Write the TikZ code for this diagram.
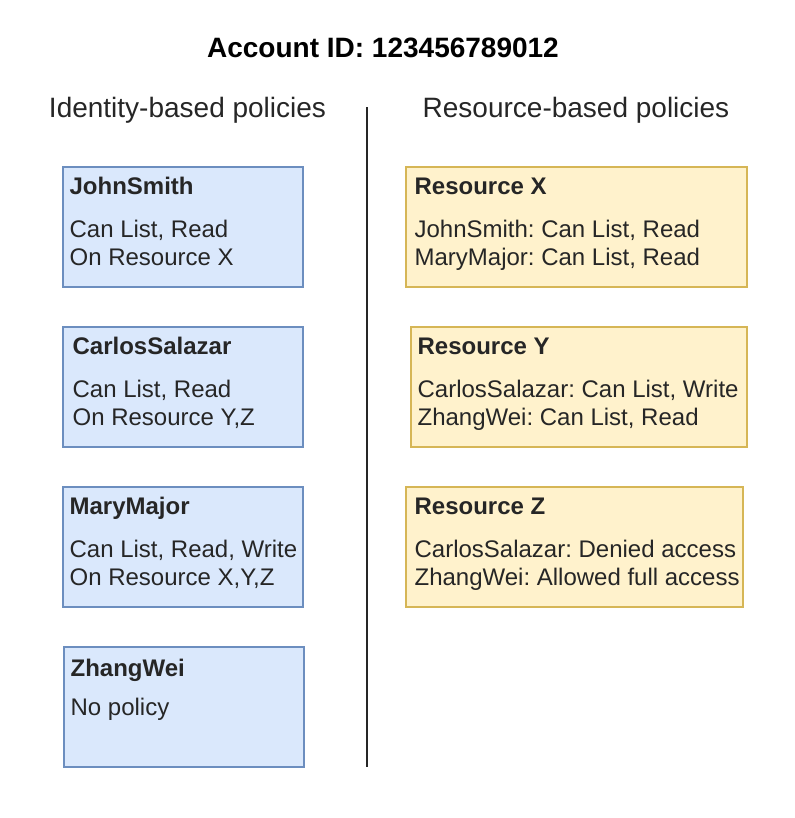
\documentclass[tikz,border=0pt]{standalone}
\usepackage{fontspec}
\setmainfont{Liberation Sans}
\frenchspacing
\usepackage{tikz}
\definecolor{id-fill}{HTML}{DAE8FC}
\definecolor{id-line}{HTML}{6C8EBF}
\definecolor{res-fill}{HTML}{FFF2CC}
\definecolor{res-line}{HTML}{D6B656}
\begin{document}
\begin{tikzpicture}[x=0.75pt, y=-0.75pt,
    idbox/.style={draw=id-line, fill=id-fill, line width=1pt, minimum width=180pt, minimum height=90pt},
    resbox/.style={draw=res-line, fill=res-fill, line width=1pt, minimum height=90pt},
    boxtext/.style={anchor=base west, inner sep=0pt, align=left, text=black!85, font=\fontsize{18pt}{21pt}\selectfont},
    head/.style={anchor=base, inner sep=0pt, text=black!85, font=\fontsize{21pt}{25pt}\selectfont}]
    \useasboundingbox (0,0) rectangle (794,818);

    \node[head, text=black, font=\fontsize{21pt}{25pt}\selectfont\bfseries] (title) at (383,57) {Account ID: 123456789012};
    \node[head] (idhead)  at (187.5,117) {Identity-based policies};
    \node[head] (reshead) at (576,117)   {Resource-based policies};

    % identity-based
    \node[idbox] (john)   at (183,227) {};
    \node[idbox] (carlos) at (183,387) {};
    \node[idbox] (mary)   at (183,547) {};
    \node[idbox] (zhang)  at (184,707) {};

    % (base of a text block = its last line)
    \node[boxtext] (johntxt)   at ([shift={(7,99)}]john.north west)   {\textbf{JohnSmith}\\[11pt]Can List, Read\\On Resource X};
    \node[boxtext] (carlostxt) at ([shift={(10,99)}]carlos.north west) {\textbf{CarlosSalazar}\\[11pt]Can List, Read\\On Resource Y,Z};
    \node[boxtext] (marytxt)   at ([shift={(7,99)}]mary.north west)   {\textbf{MaryMajor}\\[11pt]Can List, Read, Write\\On Resource X,Y,Z};
    \node[boxtext] (zhangtxt)  at ([shift={(7,69)}]zhang.north west)  {\textbf{ZhangWei}\\[8pt]No policy};

    % resource-based
    \node[resbox, minimum width=255.75pt] (resx) at (576.5,227) {};
    \node[resbox, minimum width=252pt]    (resy) at (579,387)   {};
    \node[resbox, minimum width=252.75pt] (resz) at (574.5,547) {};

    \node[boxtext] (resxtxt) at ([shift={(9,99)}]resx.north west) {\textbf{Resource X}\\[11pt]JohnSmith: Can List, Read\\MaryMajor: Can List, Read};
    \node[boxtext] (resytxt) at ([shift={(7,99)}]resy.north west) {\textbf{Resource Y}\\[11pt]CarlosSalazar: Can List, Write\\ZhangWei: Can List, Read};
    \node[boxtext] (resztxt) at ([shift={(9,99)}]resz.north west) {\textbf{Resource Z}\\[11pt]CarlosSalazar: Denied access\\ZhangWei: Allowed full access};

    % divider
    \coordinate (divtop) at (367,107);
    \coordinate (divbot) at (367,767);
    \draw[line width=1.5pt, black!85] (divtop) -- (divbot);
  \end{tikzpicture}
\end{document}
